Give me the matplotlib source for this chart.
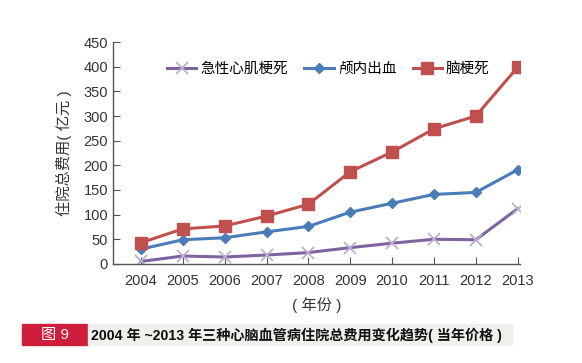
import matplotlib.pyplot as plt
from matplotlib.patches import Rectangle

plt.rcParams['font.family'] = ['Liberation Sans', 'Noto Sans CJK SC']

# 年份和三条曲线的数据(亿元,按图读出的估计值)
years = [2004, 2005, 2006, 2007, 2008, 2009, 2010, 2011, 2012, 2013]
ami = [5, 16, 14, 18, 23, 33, 42, 50, 49, 112]          # 急性心肌梗死
ich = [30, 49, 53, 65, 76, 105, 123, 141, 145, 191]     # 颅内出血
cin = [43, 71, 77, 97, 121, 187, 227, 274, 300, 399]    # 脑梗死
y_ticks = [0, 50, 100, 150, 200, 250, 300, 350, 400, 450]

fig = plt.figure(figsize=(5.82, 3.63), dpi=100)
ax = fig.add_axes([0.194, 0.273, 0.699, 0.611])

ax.plot(years, ami, color='#7f63a0', linewidth=2.2, marker='x', markersize=9,
        markeredgecolor='#b9b0d0', markeredgewidth=1.3, label='急性心肌梗死')
ax.plot(years, ich, color='#4a7db8', linewidth=2.2, marker='D', markersize=5,
        label='颅内出血')
ax.plot(years, cin, color='#c0504d', linewidth=2.2, marker='s', markersize=8,
        label='脑梗死')

ax.set_xlim(2004 - 0.67, 2013.05)
ax.set_ylim(0, 450)
ax.set_xticks(years)
ax.set_yticks(y_ticks)
ax.tick_params(direction='in', length=5, color='#555555', labelsize=10.5,
               labelcolor='#333333')
ax.tick_params(axis='x', pad=7)
for s in ['top', 'right']:
    ax.spines[s].set_visible(False)
for s in ['left', 'bottom']:
    ax.spines[s].set_color('#555555')
    ax.spines[s].set_linewidth(1.0)

ax.set_ylabel('住院总费用( 亿元 )', fontsize=11, color='#333333', labelpad=8)
ax.set_xlabel('( 年份 )', fontsize=11, color='#333333', labelpad=7)

ax.legend(loc='upper center', bbox_to_anchor=(0.53, 0.97), ncol=3, frameon=False,
          fontsize=10.5, handlelength=2.0, columnspacing=1.1, handletextpad=0.3)

# 底部图注
fig.patches.append(Rectangle((22 / 582, 1 - 345 / 363), 66 / 582, 21 / 363,
                             transform=fig.transFigure, color='#cf1d3c'))
fig.patches.append(Rectangle((88 / 582, 1 - 345 / 363), 424 / 582, 21 / 363,
                             transform=fig.transFigure, color='#eef1ec'))
fig.text(55 / 582, 1 - 335 / 363, '图 9', color='white', fontsize=11,
         ha='center', va='center')
fig.text(91 / 582, 1 - 335 / 363, '2004 年 ~2013 年三种心脑血管病住院总费用变化趋势( 当年价格 )',
         color='#111111', fontsize=10.2, fontweight='bold', ha='left', va='center')

fig.savefig('out.png', dpi=100)
